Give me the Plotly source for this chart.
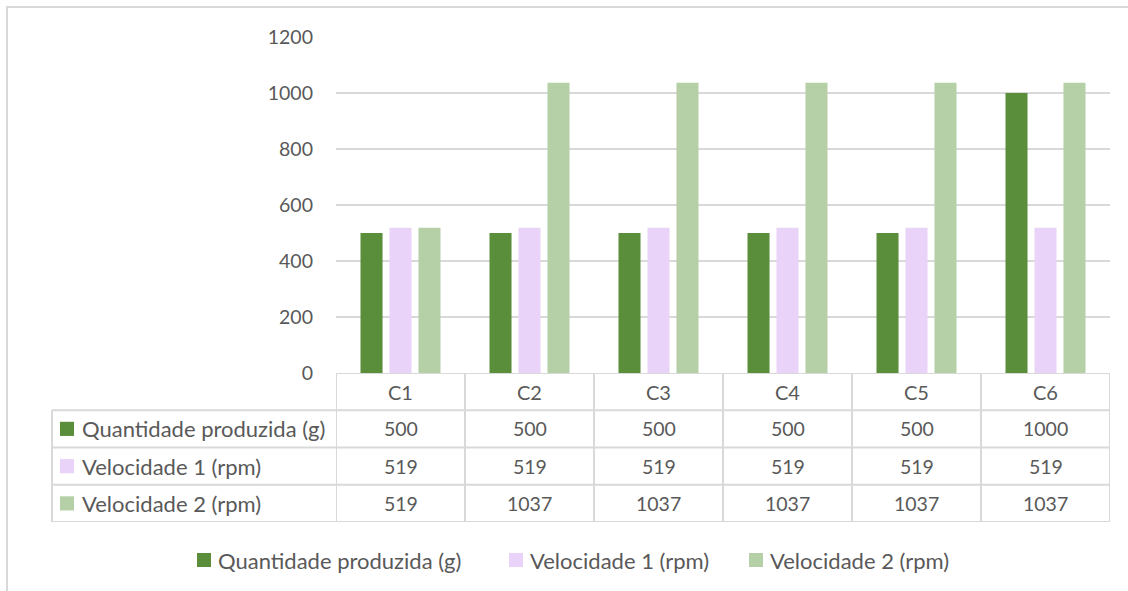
import plotly.graph_objects as go

# Chart data
categories = ["C1", "C2", "C3", "C4", "C5", "C6"]
series_names = ["Quantidade produzida (g)", "Velocidade 1 (rpm)", "Velocidade 2 (rpm)"]
quantidade = [500, 500, 500, 500, 500, 1000]
velocidade1 = [519, 519, 519, 519, 519, 519]
velocidade2 = [519, 1037, 1037, 1037, 1037, 1037]
y_ticks = [0, 200, 400, 600, 800, 1000, 1200]

series_values = [quantidade, velocidade1, velocidade2]
colors = ["#5B8E3A", "#EAD3F8", "#B5D0A7"]

FONT = "Lato"
TEXT = "#595959"
GRID = "#D9D9D9"
FS_NUM = 19.5   # numbers and tick labels
FS_TXT = 22     # series names
FS_HDR = 20     # category header

W, H = 1128, 591
ML, MR, MT, MB = 336, 18, 37, 69
PW = W - ML - MR
PH = H - MT - MB


def px_x(p):
    return (p - ML) / PW


def px_y(p):
    return (H - MB - p) / PH


fig = go.Figure()
for name, vals, col in zip(series_names, series_values, colors):
    fig.add_trace(go.Bar(
        x=categories, y=vals, name=name, marker=dict(color=col, line=dict(width=0)),
        xaxis="x", yaxis="y", showlegend=False,
    ))

shapes = []
annotations = []
line = dict(color=GRID, width=2)

# Data table under the bars: header row + one row per series
n_rows = len(series_names) + 1
left_edge = px_x(52)
# horizontal rules
shapes.append(dict(type="line", xref="paper", yref="y2", x0=0, x1=1, y0=0, y1=0, line=line))
for r in range(1, n_rows + 1):
    shapes.append(dict(type="line", xref="paper", yref="y2", x0=left_edge, x1=1,
                       y0=r, y1=r, line=line))
# vertical rules
for i in range(len(categories) + 1):
    shapes.append(dict(type="line", xref="x", yref="y2", x0=i - 0.5, x1=i - 0.5,
                       y0=0, y1=n_rows, line=line))
shapes.append(dict(type="line", xref="paper", yref="y2", x0=left_edge, x1=left_edge,
                   y0=1, y1=n_rows, line=line))

# header labels
for c in categories:
    annotations.append(dict(x=c, y=0.5, xref="x", yref="y2", text=c, showarrow=False,
                            font=dict(family=FONT, size=FS_HDR, color=TEXT)))
# row labels, keys and values
key_x0, key_x1 = px_x(60), px_x(74)
for r, (name, vals, col) in enumerate(zip(series_names, series_values, colors), start=1):
    yc = r + 0.5
    shapes.append(dict(type="rect", xref="paper", yref="y2", x0=key_x0, x1=key_x1,
                       y0=yc - 0.19, y1=yc + 0.19, fillcolor=col, line=dict(width=0)))
    annotations.append(dict(x=px_x(80), y=yc, xref="paper", yref="y2", text=name,
                            xanchor="left", showarrow=False,
                            font=dict(family=FONT, size=FS_TXT, color=TEXT)))
    for c, v in zip(categories, vals):
        annotations.append(dict(x=c, y=yc, xref="x", yref="y2", text=str(v), showarrow=False,
                                font=dict(family=FONT, size=FS_NUM, color=TEXT)))

# legend below the table
legend_keys_px = [197, 509, 749]
ly = 560
for name, col, kx in zip(series_names, colors, legend_keys_px):
    shapes.append(dict(type="rect", xref="paper", yref="paper",
                       x0=px_x(kx), x1=px_x(kx + 14), y0=px_y(ly - 7), y1=px_y(ly + 7),
                       fillcolor=col, line=dict(width=0)))
    annotations.append(dict(x=px_x(kx + 19), y=px_y(ly), xref="paper", yref="paper",
                            text=name, xanchor="left", yanchor="middle", showarrow=False,
                            font=dict(family=FONT, size=FS_TXT, color=TEXT)))

# outer chart border (left and top edges)
shapes.append(dict(type="rect", xref="paper", yref="paper",
                   x0=px_x(7), x1=px_x(W + 10), y0=px_y(7), y1=px_y(H + 10),
                   line=dict(color=GRID, width=2), layer="below"))

# header text of the page above the chart
annotations.append(dict(x=px_x(1128), y=px_y(4), xref="paper", yref="paper",
                        text="<b><i>I N D U S T R I A</i></b>", showarrow=False,
                        xanchor="right", yanchor="bottom",
                        font=dict(family="Liberation Sans", size=9, color="#2B3A7A")))

fig.update_layout(
    width=W, height=H,
    margin=dict(l=ML, r=MR, t=MT, b=MB),
    paper_bgcolor="white", plot_bgcolor="white",
    barmode="group", bargap=0.326, bargroupgap=0.24,
    font=dict(family=FONT, size=FS_NUM, color=TEXT),
    showlegend=False,
    xaxis=dict(range=[-0.5, 5.5], showticklabels=False, showgrid=False, zeroline=False,
               showline=False, ticks="", fixedrange=True),
    yaxis=dict(domain=[px_y(373), 1], range=[0, 1200], tickvals=y_ticks,
               showgrid=True, gridcolor=GRID, gridwidth=2, zeroline=False,
               showline=False, ticks="", ticklabelstandoff=22,
               tickfont=dict(family=FONT, size=FS_NUM, color=TEXT)),
    yaxis2=dict(domain=[0, px_y(373)], range=[n_rows, 0], visible=False,
                anchor="x"),
    shapes=shapes, annotations=annotations,
)

fig.write_html("out.html")
